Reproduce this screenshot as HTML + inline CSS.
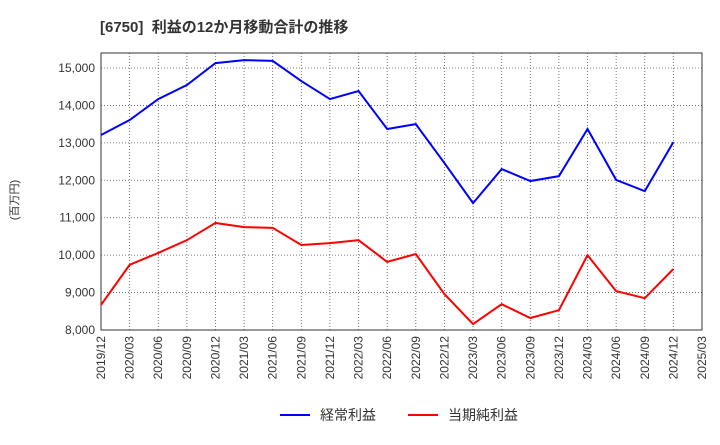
<!DOCTYPE html>
<html><head><meta charset="utf-8"><style>
body{margin:0;background:#fff;font-family:"Liberation Sans","Noto Sans CJK JP",sans-serif;}
</style></head><body>
<svg width="720" height="440" xmlns="http://www.w3.org/2000/svg">
<text x="100" y="32" font-size="15" font-weight="bold" fill="#333" font-family="Liberation Sans, Noto Sans CJK JP, sans-serif">[6750]&#160;&#160;利益の12か月移動合計の推移</text>
<g id="grid"></g>
<rect x="101" y="53" width="601" height="277" fill="none" stroke="#333"/>
<g id="axes" font-size="12" fill="#333"></g>
<g id="series"></g>
<text transform="translate(18,200) rotate(-90)" text-anchor="middle" font-size="11" fill="#333">(百万円)</text>
<g>
<line x1="280" y1="415" x2="310" y2="415" stroke="#0000ff" stroke-width="2"/>
<text x="320" y="420" font-size="14" fill="#333">経常利益</text>
<line x1="408" y1="415" x2="438" y2="415" stroke="#ff0000" stroke-width="2"/>
<text x="448" y="420" font-size="14" fill="#333">当期純利益</text>
</g>
</svg>
<script>
const categories=["2019/12","2020/03","2020/06","2020/09","2020/12","2021/03","2021/06","2021/09","2021/12","2022/03","2022/06","2022/09","2022/12","2023/03","2023/06","2023/09","2023/12","2024/03","2024/06","2024/09","2024/12","2025/03"];
const ordinaryProfit=[13210,13610,14170,14545,15130,15210,15190,14650,14170,14385,13370,13500,12460,11390,12300,11980,12110,13370,12010,11710,13020];
const netProfit=[8670,9740,10060,10400,10860,10750,10730,10270,10320,10400,9820,10030,8960,8160,8690,8320,8530,10000,9040,8850,9630];
const yTicks=[8000,9000,10000,11000,12000,13000,14000,15000];
const NS="http://www.w3.org/2000/svg";
const X0=101,X1=702,Y0=330,Y1=53;
const xs=i=>X0+i*(X1-X0)/(categories.length-1);
const ys=v=>330-(v-8000)*(262/7000);
const grid=document.getElementById('grid'),axes=document.getElementById('axes'),series=document.getElementById('series');
function mk(tag,attrs,parent){const e=document.createElementNS(NS,tag);for(const k in attrs)e.setAttribute(k,attrs[k]);parent.appendChild(e);return e;}
yTicks.forEach(v=>{
 const l=mk('line',{x1:X0,x2:X1,y1:ys(v),y2:ys(v),stroke:'#555','stroke-dasharray':'1,2','stroke-width':0.8},grid);
 
 
 const t=mk('text',{x:X0-6,y:ys(v)+4,'text-anchor':'end'},axes);
 t.textContent=v.toLocaleString('en-US');
 
 
});
categories.forEach((c,i)=>{
 const l=mk('line',{x1:xs(i),x2:xs(i),y1:Y1,y2:Y0,stroke:'#555','stroke-dasharray':'1,2','stroke-width':0.8},grid);
 
 
 const t=mk('text',{transform:`translate(${xs(i)+4},${Y0+6}) rotate(-90)`,'text-anchor':'end'},axes);
 t.textContent=c;
 
 
});
function line(data,color,name){
 const p=mk('polyline',{points:data.map((v,i)=>xs(i)+','+ys(v)).join(' '),fill:'none',stroke:color,'stroke-width':2},series);
 
 
}
line(ordinaryProfit,'#0000ff','ordinary-profit-line');
line(netProfit,'#ff0000','net-profit-line');
</script>
</body></html>
